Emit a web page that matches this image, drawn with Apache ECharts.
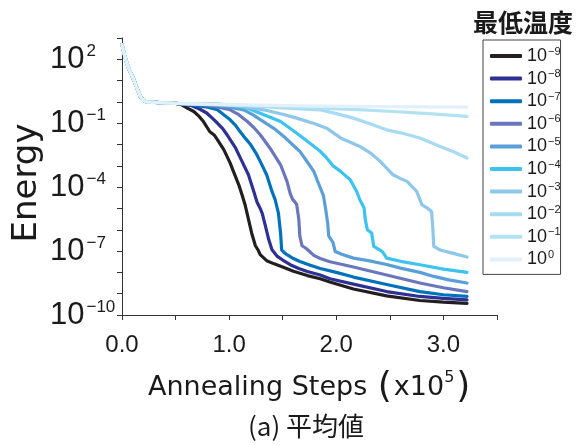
<!DOCTYPE html>
<html>
<head>
<meta charset="utf-8">
<script src="https://cdn.jsdelivr.net/npm/echarts@6/dist/echarts.min.js"></script>
<style>
  html, body { margin: 0; padding: 0; background: #fff; }
  #chart { width: 576px; height: 445px; }
</style>
</head>
<body>
<div id="chart"></div>
<script>
// Minimum annealing temperatures (legend order) and line colours
const temps = ['-9', '-8', '-7', '-6', '-5', '-4', '-3', '-2', '-1', '0'];
const colors = ['#231f20', '#2e3192', '#0072bc', '#6b77bd', '#5b9fd8',
                '#3cc3f0', '#8ec7ea', '#a7daf3', '#b2e1f3', '#e2f1f9'];

// Shared initial quench (x in units of 1e5 steps, values are log10 Energy)
const startX    = [0, 0.03, 0.06, 0.11, 0.17, 0.2, 0.23, 0.35, 0.5];
const startLogE = [2.69, 2.06, 1.6, 1.04, 0.26, 0.07, 0.0, -0.03, -0.07];

// Per-temperature continuation after the plateau
const steps_m9 = [0.55, 0.61, 0.67, 0.72, 0.76, 0.82, 0.86, 0.89, 0.95, 1.01, 1.04, 1.09, 1.12, 1.15, 1.18, 1.21, 1.245, 1.27, 1.29, 1.35, 1.42, 1.5, 1.6, 1.73, 1.85, 1.94, 2.16, 2.47, 2.78, 3.0, 3.22];
const logE_m9  = [-0.12, -0.29, -0.45, -0.68, -0.92, -1.4, -1.55, -1.77, -2.24, -2.87, -3.26, -3.89, -4.36, -4.85, -5.5, -6.15, -6.75, -6.95, -7.17, -7.45, -7.6, -7.75, -7.95, -8.15, -8.3, -8.45, -8.78, -9.1, -9.32, -9.4, -9.45];

const steps_m8 = [0.55, 0.65, 0.72, 0.79, 0.84, 0.89, 0.94, 0.98, 1.02, 1.06, 1.12, 1.18, 1.23, 1.26, 1.29, 1.31, 1.34, 1.37, 1.40, 1.45, 1.5, 1.57, 1.65, 1.73, 1.85, 1.94, 2.16, 2.47, 2.78, 3.0, 3.22];
const logE_m8  = [-0.09, -0.18, -0.32, -0.52, -0.75, -0.99, -1.25, -1.54, -1.85, -2.16, -2.79, -3.42, -4.2, -4.7, -5.0, -5.25, -5.85, -6.47, -6.94, -7.25, -7.42, -7.64, -7.82, -7.96, -8.12, -8.3, -8.55, -8.9, -9.13, -9.22, -9.29];

const steps_m7 = [0.6, 0.7, 0.8, 0.89, 0.95, 1.01, 1.06, 1.10, 1.15, 1.20, 1.25, 1.29, 1.35, 1.40, 1.43, 1.46, 1.47, 1.48, 1.49, 1.51, 1.54, 1.6, 1.66, 1.75, 1.85, 2.0, 2.16, 2.47, 2.78, 3.0, 3.22];
const logE_m7  = [-0.1, -0.17, -0.25, -0.37, -0.6, -0.84, -1.1, -1.38, -1.7, -2.0, -2.4, -2.79, -3.42, -4.2, -4.6, -5.22, -5.7, -6.15, -6.94, -7.05, -7.17, -7.35, -7.49, -7.65, -7.82, -8.0, -8.22, -8.57, -8.9, -9.05, -9.13];

const steps_m6 = [0.7, 0.8, 0.9, 1.01, 1.09, 1.17, 1.23, 1.29, 1.38, 1.48, 1.54, 1.57, 1.59, 1.63, 1.65, 1.66, 1.68, 1.72, 1.79, 1.85, 1.94, 2.16, 2.47, 2.78, 3.0, 3.22];
const logE_m6  = [-0.1, -0.17, -0.25, -0.37, -0.6, -0.92, -1.2, -1.54, -2.16, -2.95, -3.73, -4.3, -4.55, -4.8, -5.5, -6.3, -6.75, -6.88, -7.2, -7.35, -7.5, -7.75, -8.12, -8.5, -8.72, -8.9];

const steps_m5 = [0.75, 0.9, 1.0, 1.135, 1.22, 1.32, 1.42, 1.51, 1.58, 1.66, 1.72, 1.79, 1.84, 1.88, 1.90, 1.92, 1.93, 1.97, 1.99, 2.05, 2.16, 2.3, 2.47, 2.6, 2.78, 2.91, 3.05, 3.22];
const logE_m5  = [-0.08, -0.17, -0.25, -0.37, -0.6, -0.92, -1.25, -1.62, -1.95, -2.32, -2.75, -3.26, -3.9, -4.4, -5.0, -5.7, -6.3, -6.6, -7.02, -7.15, -7.33, -7.45, -7.63, -7.8, -8.0, -8.19, -8.35, -8.5];

const steps_m4 = [0.8, 1.0, 1.17, 1.3, 1.4, 1.48, 1.6, 1.73, 1.85, 1.91, 1.97, 2.04, 2.13, 2.19, 2.22, 2.26, 2.27, 2.29, 2.33, 2.35, 2.43, 2.47, 2.6, 2.78, 3.0, 3.22];
const logE_m4  = [-0.08, -0.15, -0.29, -0.55, -0.75, -0.92, -1.35, -1.85, -2.32, -2.63, -3.0, -3.26, -3.65, -4.2, -4.59, -4.98, -5.5, -6.0, -6.15, -6.78, -7.02, -7.33, -7.48, -7.64, -7.85, -8.0];

const steps_m3 = [0.9, 1.1, 1.32, 1.5, 1.63, 1.8, 1.91, 2.04, 2.22, 2.32, 2.41, 2.53, 2.6, 2.66, 2.75, 2.80, 2.85, 2.89, 2.90, 2.91, 2.97, 3.1, 3.22];
const logE_m3  = [-0.1, -0.2, -0.37, -0.58, -0.76, -1.02, -1.23, -1.69, -2.09, -2.4, -2.79, -3.42, -3.6, -3.73, -4.2, -4.83, -4.98, -5.15, -5.85, -6.78, -6.95, -7.12, -7.28];

const steps_m2 = [1.0, 1.2, 1.5, 1.85, 2.0, 2.16, 2.3, 2.47, 2.6, 2.78, 2.97, 3.1, 3.22];
const logE_m2  = [-0.12, -0.18, -0.28, -0.37, -0.55, -0.76, -1.0, -1.31, -1.45, -1.69, -2.09, -2.35, -2.63];

const steps_m1 = [1.0, 1.5, 1.85, 2.2, 2.53, 2.9, 3.22];
const logE_m1  = [-0.15, -0.22, -0.29, -0.36, -0.45, -0.56, -0.68];

const steps_0 = [1.0, 1.85, 2.5, 3.22];
const logE_0  = [-0.13, -0.2, -0.22, -0.24];

const curveSteps = [steps_m9, steps_m8, steps_m7, steps_m6, steps_m5, steps_m4, steps_m3, steps_m2, steps_m1, steps_0];
const curveLogE  = [logE_m9, logE_m8, logE_m7, logE_m6, logE_m5, logE_m4, logE_m3, logE_m2, logE_m1, logE_0];

// y-axis labelled decades and x-axis labelled steps
const yLabelExps = [2, -1, -4, -7, -10];
const xLabelSteps = [0, 1, 2, 3];

const MINUS = '\u2212';
const expText = e => (e < 0 ? MINUS + Math.abs(e) : String(e));

const series = temps.map((t, i) => {
  const xs = startX.concat(curveSteps[i]);
  const ls = startLogE.concat(curveLogE[i]);
  return {
    name: t,
    type: 'line',
    showSymbol: false,
    symbol: 'none',
    smooth: false,
    animation: false,
    color: colors[i],
    lineStyle: { width: 3.2, color: colors[i], join: 'round', cap: 'round' },
    data: xs.map((x, k) => [x, Math.pow(10, ls[k])])
  };
});

const chart = echarts.init(document.getElementById('chart'), null, { renderer: 'canvas' });

chart.setOption({
  backgroundColor: '#ffffff',
  animation: false,
  grid: { left: 122, right: 79, top: 38, bottom: 130, containLabel: false },
  xAxis: {
    type: 'value',
    min: 0, max: 3.5, interval: 0.5,
    axisLine: { lineStyle: { color: '#333', width: 1 } },
    axisTick: { show: true, length: 5, lineStyle: { color: '#333' } },
    splitLine: { show: false },
    axisLabel: {
      margin: 18,
      color: '#1a1a1a',
      fontSize: 24,
      fontFamily: 'Liberation Sans',
      formatter: v => (xLabelSteps.some(s => Math.abs(s - v) < 1e-6) ? v.toFixed(1) : '')
    }
  },
  yAxis: {
    type: 'log',
    logBase: 10,
    min: 1e-10, max: 1e3, interval: 1,
    axisLine: { show: true, lineStyle: { color: '#333', width: 1 } },
    axisTick: { show: true, length: 5, lineStyle: { color: '#333' } },
    splitLine: { show: false },
    axisLabel: {
      margin: 72,
      align: 'left',
      formatter: v => {
        const e = Math.round(Math.log10(v));
        return yLabelExps.includes(e) ? '{b|10}{s|' + expText(e) + '}' : '';
      },
      rich: {
        b: { fontSize: 31, fontFamily: 'Liberation Sans', color: '#1a1a1a', lineHeight: 32 },
        s: { fontSize: 17, fontFamily: 'Liberation Sans', color: '#1a1a1a', verticalAlign: 'top', lineHeight: 18, padding: [0, 0, 0, 2] }
      }
    }
  },
  legend: {
    orient: 'vertical',
    left: 483, top: 40,
    padding: [6, 0, 6, 7],
    itemWidth: 32, itemHeight: 4, itemGap: 3.6,
    icon: 'roundRect',
    selectedMode: false,
    borderColor: '#444', borderWidth: 1,
    data: temps,
    formatter: name => '{b|10}{s|' + expText(Number(name)) + '}',
    textStyle: {
      rich: {
        b: { fontSize: 18, fontFamily: 'Liberation Sans', color: '#1a1a1a', lineHeight: 20 },
        s: { fontSize: 11, fontFamily: 'Liberation Sans', color: '#1a1a1a', verticalAlign: 'top', lineHeight: 12, padding: [0, 0, 0, 1] }
      }
    }
  },
  graphic: [
    {
      type: 'text', left: 473, top: 10,
      style: { text: '最低温度', font: 'bold 25px "Noto Sans CJK JP"', fill: '#1a1a1a' }
    },
    {
      type: 'text', x: 27, y: 183, rotation: Math.PI / 2,
      style: { text: 'Energy', font: '34px "DejaVu Sans"', fill: '#1a1a1a', align: 'center', verticalAlign: 'middle' }
    },
    {
      type: 'text', x: 148, y: 388,
      style: {
        text: '{t|Annealing Steps }{p|(}{t|x10}{s|5}{p|)}',
        verticalAlign: 'middle', align: 'left',
        rich: {
          t: { fontSize: 27, fontFamily: 'DejaVu Sans', fill: '#1a1a1a', lineHeight: 34 },
          p: { fontSize: 36, fontFamily: 'DejaVu Sans', fill: '#1a1a1a', lineHeight: 36, padding: [0, 2, 0, 2] },
          s: { fontSize: 16, fontFamily: 'DejaVu Sans', fill: '#1a1a1a', verticalAlign: 'top', lineHeight: 16 }
        }
      }
    },
    {
      type: 'text', x: 306, y: 426,
      style: { text: '(a) 平均値', font: '26px "Noto Sans CJK JP"', fill: '#1a1a1a', align: 'center', verticalAlign: 'middle' }
    }
  ],
  series: series
});
</script>
</body>
</html>
